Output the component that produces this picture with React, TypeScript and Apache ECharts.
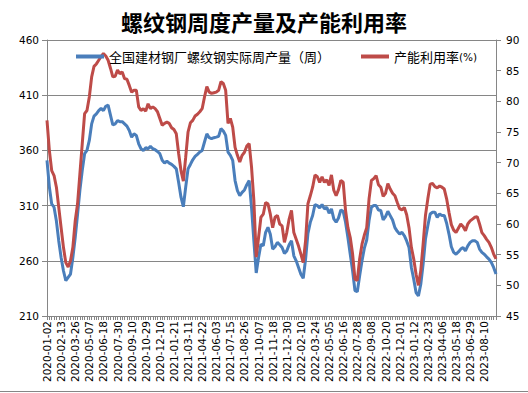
import React, { useEffect, useRef } from "react";
import * as echarts from "echarts";

// Weekly (Thursday) dates, with holiday weeks that have no data skipped
const START_DATE = "2020-01-02";
const SKIPPED_WEEKS = ["2020-10-01", "2021-02-11"];
const POINT_COUNT = 192;

function buildDates(): string[] {
  const out: string[] = [];
  const d = new Date(START_DATE + "T00:00:00Z");
  while (out.length < POINT_COUNT) {
    const s = d.toISOString().slice(0, 10);
    if (!SKIPPED_WEEKS.includes(s)) out.push(s);
    d.setUTCDate(d.getUTCDate() + 7);
  }
  return out;
}
const categories = buildDates();

const seriesNames = ["全国建材钢厂螺纹钢实际周产量（周）", "产能利用率(%)"];

const weeklyOutput = [
  351, 327, 311.5, 308.5, 296, 278, 263, 251, 242, 245,
  248, 263, 281, 302, 324, 342, 357, 360, 369, 384,
  391, 393, 396, 398, 396, 400, 401, 392, 383, 384,
  387, 386, 386, 384, 382, 378, 372, 375, 373.6, 366,
  361.5, 360, 362.4, 361.5, 363.6, 361.5, 360.6, 359, 357, 351,
  348.5, 350.3, 348.5, 347.3, 345.5, 343.3, 331, 317.6, 309, 326.7,
  343.3, 347.3, 351.5, 354.5, 356.4, 358.5, 360, 367.6, 375, 371.5,
  370.6, 371.5, 372, 372.7, 379.7, 377.6, 373.6, 358.5, 355.5, 351,
  332.7, 323.6, 319, 322, 324.2, 329, 332.7, 308.5, 278, 249,
  263, 275, 273.6, 285.8, 290.3, 284, 270.6, 272.7, 276.7, 274.5,
  272, 266.7, 269, 274.5, 278.2, 264.5, 260, 254, 247.9, 244.2,
  261.5, 284.8, 294.8, 301, 311, 310, 307.9, 311, 307, 308.5,
  303, 307, 297.9, 295, 298.8, 306, 304.8, 295, 281, 266,
  251, 233, 232, 246.4, 260, 271.5, 278.8, 296.4, 308.5, 310,
  310, 306, 305.5, 297, 300, 304.8, 300.9, 297, 290, 286.7,
  284.2, 285.8, 282.7, 278, 272, 254, 243.3, 231.2, 228.2, 238.8,
  257, 279.7, 291.8, 302.4, 304, 304, 299.4, 302.4, 301, 301,
  294, 284.2, 272.7, 267.6, 266, 268, 270.6, 272, 269, 273.6,
  276.7, 278.2, 278.2, 276.7, 270.6, 267.6, 266, 263.6, 261.5,
  258.5, 254, 248,
];

const utilizationRate = [
  76.9, 72, 68.7, 67.9, 66, 62.7, 59.4, 56.2, 53.7, 53,
  54, 56.2, 60.5, 63.3, 68.2, 73.1, 78, 78.5, 80.7, 84,
  85.7, 86.1, 86.7, 87.3, 87.8, 87.4, 86.7, 85.4, 84, 84.1,
  85.1, 84.5, 84.8, 83.7, 83.6, 82.6, 81.5, 81.8, 81.8, 79.1,
  78.5, 78.8, 78.4, 79.6, 78.8, 79.1, 78.8, 78.3, 77.2, 76.1,
  76.4, 76.6, 76.4, 75.7, 75.4, 74.7, 71.5, 68.7, 67, 70.9,
  75, 76.5, 76.9, 77.6, 77.9, 78.3, 78.8, 80.7, 82.4, 81.5,
  81.3, 81.4, 81.5, 81.8, 83.2, 82.9, 81.8, 76.4, 77.2, 75.8,
  72.5, 71.2, 70.1, 71.2, 71.7, 72.7, 73.1, 69.3, 63.8, 54.6,
  57.8, 61.1, 61.6, 63.5, 63.3, 61.6, 59.4, 61.1, 61.4, 60,
  59.7, 57, 58.6, 60.8, 62.2, 58.6, 57.5, 56.4, 55.1, 53.7,
  57.3, 63.3, 64.6, 66, 68, 67.7, 66.8, 67.7, 66.8, 67.2,
  66.3, 68, 65.5, 64.6, 65.6, 67.1, 66.8, 62.2, 59.4, 57.8,
  55.1, 51, 50.8, 54.3, 56.7, 58.2, 59.4, 64.1, 67.1, 67.4,
  67.9, 66.4, 66, 64.5, 65, 66.6, 65.7, 65, 64.6, 63.5,
  62.5, 62.3, 62.7, 61.5, 59.4, 56.2, 54.3, 51.8, 50, 52.4,
  56.7, 61.4, 64.1, 66.5, 66.6, 66.1, 65.9, 66.2, 66, 65.7,
  64.1, 61.9, 59.9, 59, 58.6, 59.3, 60, 59.6, 58.9, 60,
  60.5, 60.8, 61.1, 61.2, 60, 58.6, 58.1, 57.5, 57,
  56.2, 55.1, 54.3,
];

const LEFT_MIN = 210, LEFT_MAX = 460, LEFT_STEP = 50;
const RIGHT_MIN = 45, RIGHT_MAX = 90, RIGHT_STEP = 5;

const GRAY = "#868686";
const BLUE = "#4a7ebb";
const RED = "#be4b48";
const TICK_FONT = "DejaVu Sans";
const CJK_FONT = "Noto Sans CJK SC";

export default function App() {
  const ref = useRef<HTMLDivElement>(null);
  useEffect(() => {
    if (!ref.current) return;
    const chart = echarts.init(ref.current, null, { renderer: "svg" });
    const legendText = {
      fontSize: 13, fontFamily: CJK_FONT, color: "#000",
      rich: { s: { fontSize: 10.5, fontFamily: TICK_FONT, color: "#000" } },
    };
    chart.setOption({
      animation: false,
      backgroundColor: "#fff",
      title: {
        text: "螺纹钢周度产量及产能利用率",
        left: "center",
        top: 5,
        textStyle: { fontFamily: CJK_FONT, fontSize: 22, fontWeight: "bold", color: "#000" },
      },
      legend: [
        {
          data: [seriesNames[0]], left: 71, top: 45, icon: "rect",
          itemWidth: 28, itemHeight: 4, textStyle: legendText,
        },
        {
          data: [seriesNames[1]], left: 356, top: 45, icon: "rect",
          itemWidth: 28, itemHeight: 4, textStyle: legendText,
          formatter: (name: string) => name.replace("(%)", "{s|(%)}"),
        },
      ],
      grid: { left: 47, right: 32, top: 40, bottom: 77, containLabel: false },
      xAxis: {
        type: "category",
        data: categories,
        boundaryGap: false,
        axisLine: { lineStyle: { color: GRAY, width: 1 } },
        axisTick: { show: true, interval: 0, length: 4, lineStyle: { color: GRAY } },
        axisLabel: {
          interval: 5, rotate: 90, margin: 5,
          fontFamily: TICK_FONT, fontSize: 10.5, color: "#000",
        },
        splitLine: { show: false },
      },
      yAxis: [
        {
          type: "value", min: LEFT_MIN, max: LEFT_MAX, interval: LEFT_STEP,
          axisLine: { show: true, lineStyle: { color: GRAY } },
          axisTick: { show: true, length: 5, lineStyle: { color: GRAY } },
          axisLabel: { fontFamily: TICK_FONT, fontSize: 10.5, color: "#000", margin: 8 },
          splitLine: { show: true, lineStyle: { color: GRAY, width: 1 } },
        },
        {
          type: "value", min: RIGHT_MIN, max: RIGHT_MAX, interval: RIGHT_STEP,
          position: "right",
          axisLine: { show: true, lineStyle: { color: GRAY } },
          axisTick: { show: true, length: 5, lineStyle: { color: GRAY } },
          axisLabel: { fontFamily: TICK_FONT, fontSize: 10.5, color: "#000", margin: 10 },
          splitLine: { show: false },
        },
      ],
      series: [
        {
          name: seriesNames[0], type: "line", data: weeklyOutput, yAxisIndex: 0,
          showSymbol: false, symbol: "none",
          lineStyle: { color: BLUE, width: 3 }, itemStyle: { color: BLUE },
        },
        {
          name: seriesNames[1], type: "line", data: utilizationRate, yAxisIndex: 1,
          showSymbol: false, symbol: "none",
          lineStyle: { color: RED, width: 3 }, itemStyle: { color: RED },
        },
      ],
      graphic: [
        {
          type: "line",
          shape: { x1: 0, y1: 391.5, x2: 528, y2: 391.5 },
          style: { stroke: GRAY, lineWidth: 1 },
        },
      ],
    });
    return () => chart.dispose();
  }, []);
  return (
    <div
      ref={ref}
      style={{ position: "fixed", left: 0, top: 0, width: 528, height: 393 }}
    />
  );
}
